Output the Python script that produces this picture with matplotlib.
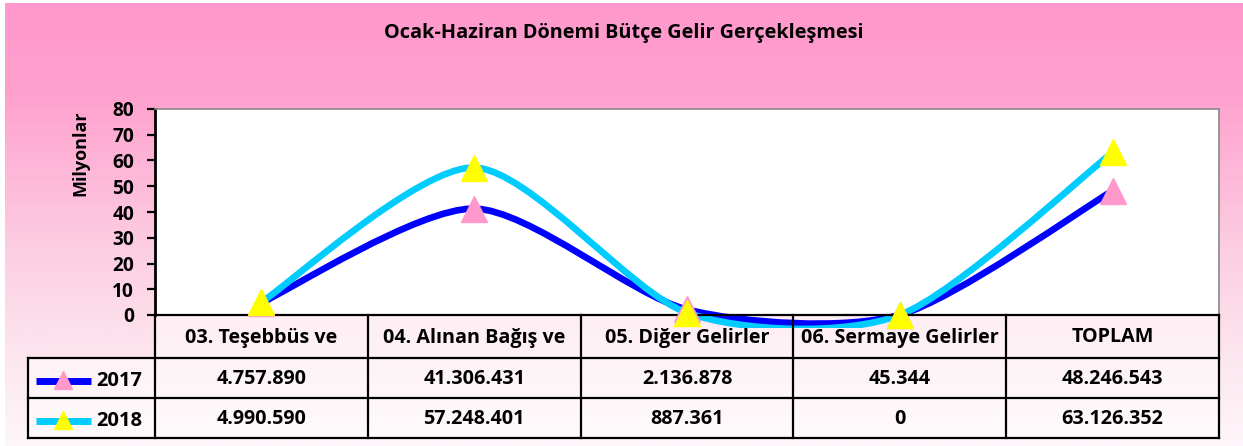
import numpy as np
import matplotlib.pyplot as plt
from matplotlib.path import Path
from matplotlib.patches import PathPatch, Rectangle
from matplotlib.colors import LinearSegmentedColormap

plt.rcParams['font.family'] = ['Open Sans', 'DejaVu Sans']
plt.rcParams['font.weight'] = 'bold'

title = "Ocak-Haziran Dönemi Bütçe Gelir Gerçekleşmesi"
categories = ["03. Teşebbüs ve", "04. Alınan Bağış ve", "05. Diğer Gelirler",
              "06. Sermaye Gelirler", "TOPLAM"]
years = ["2017", "2018"]
values_2017 = [4757890, 41306431, 2136878, 45344, 48246543]
values_2018 = [4990590, 57248401, 887361, 0, 63126352]
line_colors = ["#0000FF", "#00CCFF"]
marker_colors = ["#FF99CC", "#FFFF00"]
yticks = [0, 10, 20, 30, 40, 50, 60, 70, 80]

W, H = 1243, 446
# layout in pixels
px_left, px_right, px_top, px_bottom = 155, 1219, 109, 315
leg_left = 28
row_edges = [315, 358, 398, 438]
tension = 0.13


def fmt(v):
    return f"{v:,}".replace(",", ".")


def smooth_path(xs, ys, k):
    # smoothed line: cubic bezier through the points
    pts = np.column_stack([xs, ys]).astype(float)
    n = len(pts)
    verts = [pts[0]]
    codes = [Path.MOVETO]
    for i in range(n - 1):
        p0 = pts[i - 1] if i > 0 else pts[i]
        p1, p2 = pts[i], pts[i + 1]
        p3 = pts[i + 2] if i + 2 < n else pts[i + 1]
        verts += [p1 + (p2 - p0) * k, p2 - (p3 - p1) * k, p2]
        codes += [Path.CURVE4] * 3
    return Path(verts, codes)


fig = plt.figure(figsize=(W / 100, H / 100), dpi=100)
fig.patch.set_facecolor("white")

# background + table axes in pixel coordinates
bg = fig.add_axes([0, 0, 1, 1], zorder=0)
bg.set_xlim(0, W)
bg.set_ylim(H, 0)
bg.axis("off")
cmap = LinearSegmentedColormap.from_list(
    "pinkfade", [(0, "#FF99CC"), (0.2, "#FFA0CE"), (0.55, "#FCCDE1"), (0.8, "#FCE6EF"), (1, "#FEF6FA")])
grad = np.linspace(0, 1, 256).reshape(-1, 1)
bg.imshow(grad, cmap=cmap, aspect="auto", extent=(5, W, H, 3), zorder=0)

bg.text(W / 2 + 2, 33, title, ha="center", va="center", fontsize=14.3, fontweight="bold")

# table
ncol = len(categories)
col_w = (px_right - px_left) / ncol
col_edges = [px_left + i * col_w for i in range(ncol + 1)]
bg.add_patch(Rectangle((px_left, row_edges[0]), px_right - px_left, row_edges[3] - row_edges[0],
                       facecolor="white", alpha=0.5, edgecolor="none", zorder=1))
bg.add_patch(Rectangle((leg_left, row_edges[1]), px_left - leg_left, row_edges[3] - row_edges[1],
                       facecolor="white", alpha=0.5, edgecolor="none", zorder=1))

fs_tab = 14.2
for i, cat in enumerate(categories):
    cx = (col_edges[i] + col_edges[i + 1]) / 2
    bg.text(cx, (row_edges[0] + row_edges[1]) / 2 + 1, cat, ha="center", va="center",
            fontsize=fs_tab, fontweight="bold", zorder=4)
for r, (yr, vals, lc, mc) in enumerate(zip(years, [values_2017, values_2018], line_colors, marker_colors)):
    cy = (row_edges[r + 1] + row_edges[r + 2]) / 2 + 1
    bg.plot([36, 91], [cy + 1.5, cy + 1.5], color=lc, lw=5, zorder=4, solid_capstyle="butt")
    bg.plot([63], [cy + 1], marker="^", ms=13, color=mc, mec=mc, zorder=5)
    bg.text(96, cy + 2, yr, ha="left", va="center", fontsize=14.5, fontweight="bold", zorder=4)
    for i, v in enumerate(vals):
        cx = (col_edges[i] + col_edges[i + 1]) / 2
        bg.text(cx, cy, fmt(v), ha="center", va="center", fontsize=fs_tab, fontweight="bold", zorder=4)

# main chart
ax = fig.add_axes([px_left / W, 1 - px_bottom / H, (px_right - px_left) / W, (px_bottom - px_top) / H],
                  zorder=2)
ax.set_facecolor("white")
ax.set_xlim(0.5, ncol + 0.5)
ax.set_ylim(0, 80)

# table grid drawn above the curves but below the markers
lk = dict(color="black", lw=1.6, zorder=3.5, solid_capstyle="projecting",
          transform=bg.transData, clip_on=False)
ax.plot([px_left, px_right], [row_edges[0]] * 2, **lk)
for r in row_edges[1:]:
    ax.plot([leg_left, px_right], [r, r], **lk)
ax.plot([leg_left, leg_left], [row_edges[1], row_edges[3]], **lk)
for c in col_edges:
    ax.plot([c, c], [row_edges[0], row_edges[3]], **lk)

# curves clipped a little below the zero line, like the original plot area
clip_extra = 12.5 / (px_bottom - px_top)
clip_rect = Rectangle((0, -clip_extra), 1, 1.5, transform=ax.transAxes)
x = np.arange(1, ncol + 1)
for vals, lc, mc in zip([values_2017, values_2018], line_colors, marker_colors):
    y = np.array(vals) / 1e6
    pp = PathPatch(smooth_path(x, y, tension), facecolor="none", edgecolor=lc, lw=4.8, zorder=3)
    ax.add_patch(pp)
    pp.set_clip_path(clip_rect)
    ax.plot(x, y, linestyle="none", marker="^", ms=19, color=mc, mec=mc, clip_on=False, zorder=4)

ax.set_xticks([])
ax.set_yticks(yticks)
ax.set_yticklabels([str(t) for t in yticks], fontsize=13.8, fontweight="bold")
ax.tick_params(axis="y", length=6, width=1.6, direction="out", pad=9)
ax.spines["left"].set_linewidth(2)
ax.spines["left"].set_color("black")
ax.spines["bottom"].set_visible(False)
ax.spines["top"].set_color("#888888")
ax.spines["right"].set_color("#888888")
ax.spines["top"].set_linewidth(1.2)
ax.spines["right"].set_linewidth(1.2)
ax.set_ylabel("Milyonlar", fontsize=13, fontweight="bold")
ax.yaxis.set_label_coords(-0.062, 0.786)

fig.savefig("out.png", dpi=100)
